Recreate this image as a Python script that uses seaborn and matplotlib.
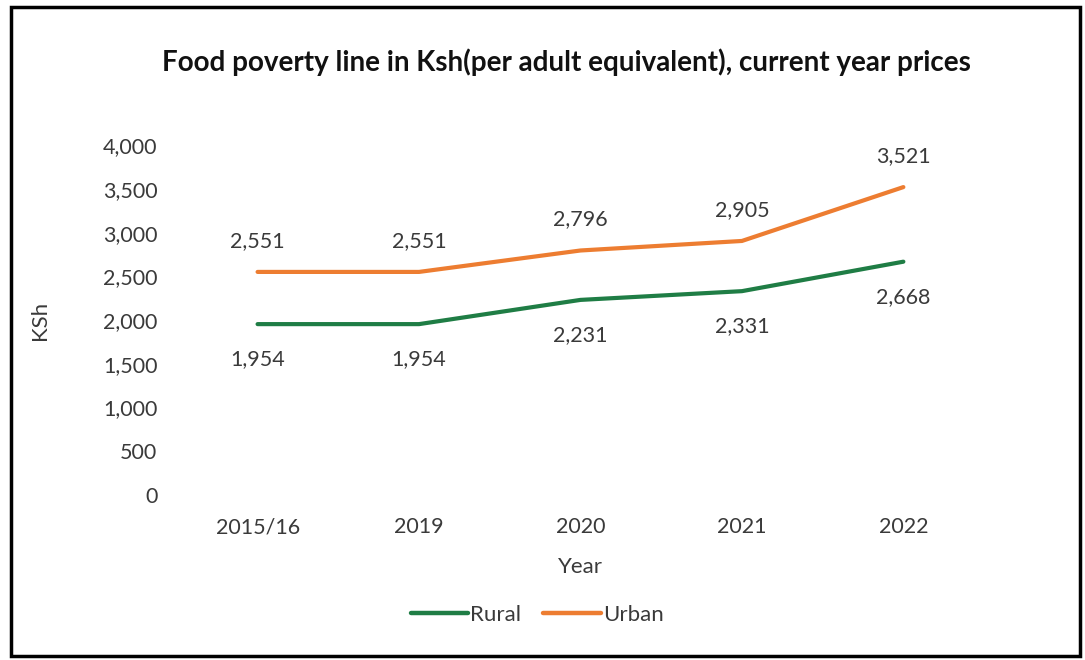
import matplotlib
matplotlib.use("Agg")
import matplotlib.pyplot as plt
import matplotlib.patches as mpatches
import pandas as pd
import seaborn as sns

years = ["2015/16", "2019", "2020", "2021", "2022"]
rural = [1954, 1954, 2231, 2331, 2668]
urban = [2551, 2551, 2796, 2905, 3521]
yticks = [0, 500, 1000, 1500, 2000, 2500, 3000, 3500, 4000]

GREEN = "#1f7d45"
ORANGE = "#ed7d31"
TEXT = "#3a3a3a"

sns.set_style("white")
plt.rcParams["font.family"] = ["Lato", "DejaVu Sans"]

df = pd.DataFrame({
    "Year": years * 2,
    "KSh": rural + urban,
    "Area": ["Rural"] * len(years) + ["Urban"] * len(years),
})

fig = plt.figure(figsize=(10.85, 6.6), dpi=100)
ax = fig.add_axes([0.163, 0.25, 0.744, 0.53])

sns.lineplot(
    data=df, x="Year", y="KSh", hue="Area", hue_order=["Rural", "Urban"],
    palette={"Rural": GREEN, "Urban": ORANGE}, linewidth=3.0, sort=False,
    ax=ax, legend=False,
)

ax.set_xlim(-0.5, len(years) - 0.5)
ax.set_ylim(0, 4000)
ax.set_yticks(yticks)
ax.set_yticklabels([f"{v:,}" for v in yticks])
ax.tick_params(axis="both", length=0, labelsize=15.5, colors=TEXT, pad=14)
ax.tick_params(axis="x", pad=16)
sns.despine(ax=ax, left=True, bottom=True)

# data labels: urban above, rural below
for i, v in enumerate(urban):
    ax.annotate(f"{v:,}", (i, v), xytext=(0, 22.5), textcoords="offset points",
                ha="center", va="center", fontsize=15.5, color=TEXT)
for i, v in enumerate(rural):
    ax.annotate(f"{v:,}", (i, v), xytext=(0, -25.5), textcoords="offset points",
                ha="center", va="center", fontsize=15.5, color=TEXT)

ax.set_xlabel("Year", fontsize=16, color=TEXT, labelpad=14)
ax.set_ylabel("KSh", fontsize=16, color=TEXT, labelpad=38)

fig.suptitle("Food poverty line in Ksh(per adult equivalent), current year prices",
             x=0.522, y=0.926, fontsize=20, fontweight="bold", color="#111111")

handles = [plt.Line2D([], [], color=GREEN, lw=3.2),
           plt.Line2D([], [], color=ORANGE, lw=3.2)]
fig.legend(handles, ["Rural", "Urban"], loc="center", bbox_to_anchor=(0.495, 0.068),
           ncol=2, frameon=False, fontsize=16, handlelength=2.6,
           handletextpad=0.08, columnspacing=1.0, labelcolor=TEXT)

fig.patches.append(mpatches.Rectangle((0.01, 0.006), 0.985, 0.983, transform=fig.transFigure,
                                      fill=False, edgecolor="black", linewidth=2.5))

fig.savefig("out.png", dpi=100)
